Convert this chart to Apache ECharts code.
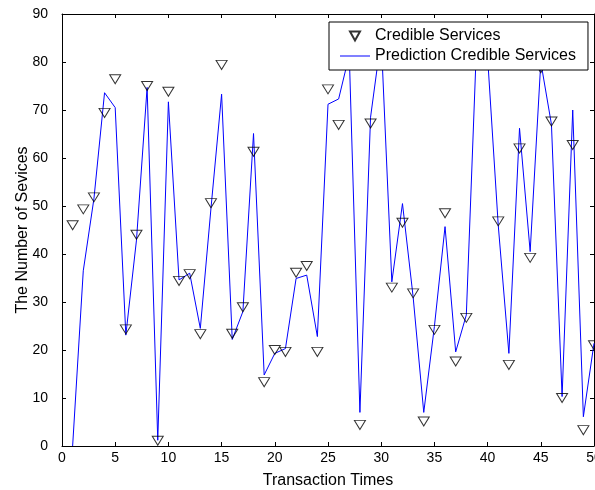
<!DOCTYPE html>
<html>
<head>
<meta charset="utf-8">
<script src="https://cdn.jsdelivr.net/npm/echarts@6/dist/echarts.min.js"></script>
<style>
  html, body { margin: 0; padding: 0; background: #fff; }
  #chart { width: 595px; height: 490px; }
</style>
</head>
<body>
<div id="chart"></div>
<script>
// transaction index, 1..50
const times = [
  1, 2, 3, 4, 5, 6, 7, 8, 9, 10,
  11, 12, 13, 14, 15, 16, 17, 18, 19, 20,
  21, 22, 23, 24, 25, 26, 27, 28, 29, 30,
  31, 32, 33, 34, 35, 36, 37, 38, 39, 40,
  41, 42, 43, 44, 45, 46, 47, 48, 49, 50,
];

// triangles (27, 30, 39, 40 sit behind the legend box)
const credible = [
  46.0, 49.3, 51.8, 69.4, 76.4, 24.3, 44.0, 75.0, 1.1, 73.8,
  34.4, 35.8, 23.3, 50.6, 79.4, 23.4, 28.9, 61.3, 13.3, 20.0,
  19.6, 36.1, 37.5, 19.6, 74.3, 66.9, 84.0, 4.4, 67.2, 85.0,
  33.0, 46.5, 31.8, 5.1, 24.2, 48.5, 17.6, 26.7, 85.5, 83.5,
  46.8, 16.9, 62.0, 39.2, 78.7, 67.6, 10.0, 62.7, 3.3, 21.0,
];

const predicted = [
  0.0, 36.5, 51.5, 73.6, 70.5, 23.1, 42.9, 74.7, 1.2, 71.7,
  34.6, 36.0, 24.5, 49.5, 73.3, 22.2, 28.0, 65.1, 14.8, 19.3,
  20.3, 34.9, 35.6, 22.8, 71.2, 72.3, 81.5, 7.0, 68.5, 85.0,
  34.2, 50.5, 31.1, 7.0, 24.9, 45.7, 19.6, 27.3, 86.0, 81.0,
  46.0, 19.3, 66.2, 40.5, 80.0, 67.0, 10.3, 70.0, 6.1, 21.4,
];

const FONT = '"Liberation Sans", Arial, sans-serif';
const TRI = 'path://M0,0L10,0L5,9Z';
const DASH = 'path://M0,0L30,0L30,1L0,1Z';

const pairs = (ys) => times.map((t, i) => [t, ys[i]]);

const boxAxis = (extra) => Object.assign({
  type: 'value',
  nameMoveOverlap: false,
  axisLine: { show: true, onZero: false, lineStyle: { color: '#000', width: 1 } },
  axisTick: { show: true, inside: true, length: 4, lineStyle: { color: '#000' } },
  splitLine: { show: false },
  axisLabel: { show: false },
}, extra);

const chart = echarts.init(document.getElementById('chart'));

chart.setOption({
  animation: false,
  backgroundColor: '#fff',
  grid: { left: 62, right: 1, top: 14, bottom: 44, outerBoundsMode: 'none', containLabel: false },
  legend: {
    orient: 'vertical',
    left: 329,
    top: 22,
    z: 10,
    padding: [6, 12, 6, 11],
    itemGap: 4,
    itemWidth: 30,
    itemHeight: 9,
    borderColor: '#000',
    borderWidth: 1,
    backgroundColor: '#fff',
    textStyle: { fontFamily: FONT, fontSize: 16, color: '#000' },
    data: [
      { name: 'Credible Services', icon: TRI },
      { name: 'Prediction Credible Services', icon: DASH },
    ],
  },
  xAxis: [
    boxAxis({
      position: 'bottom', min: 0, max: 50, interval: 5,
      name: 'Transaction Times', nameLocation: 'middle', nameGap: 27,
      nameTextStyle: { fontFamily: FONT, fontSize: 16, color: '#000' },
      axisLabel: { show: true, margin: 5, fontFamily: FONT, fontSize: 14, color: '#000' },
    }),
    boxAxis({ position: 'top', min: 0, max: 50, interval: 5 }),
  ],
  yAxis: [
    boxAxis({
      position: 'left', min: 0, max: 90, interval: 10,
      name: 'The Number of Sevices', nameLocation: 'middle', nameGap: 31,
      nameTextStyle: { fontFamily: FONT, fontSize: 16, color: '#000' },
      axisLabel: { show: true, margin: 14, fontFamily: FONT, fontSize: 14, color: '#000' },
    }),
    boxAxis({ position: 'right', min: 0, max: 90, interval: 10 }),
  ],
  series: [
    {
      name: 'Credible Services',
      type: 'scatter',
      data: pairs(credible),
      symbol: TRI,
      symbolSize: [11, 9],
      itemStyle: { color: 'rgba(0,0,0,0)', borderColor: '#000', borderWidth: 1 },
      z: 3,
    },
    {
      name: 'Prediction Credible Services',
      type: 'line',
      data: pairs(predicted),
      symbol: 'none',
      lineStyle: { color: '#0000ff', width: 1 },
      itemStyle: { color: '#0000ff' },
      z: 2,
    },
  ],
});
</script>
</body>
</html>
